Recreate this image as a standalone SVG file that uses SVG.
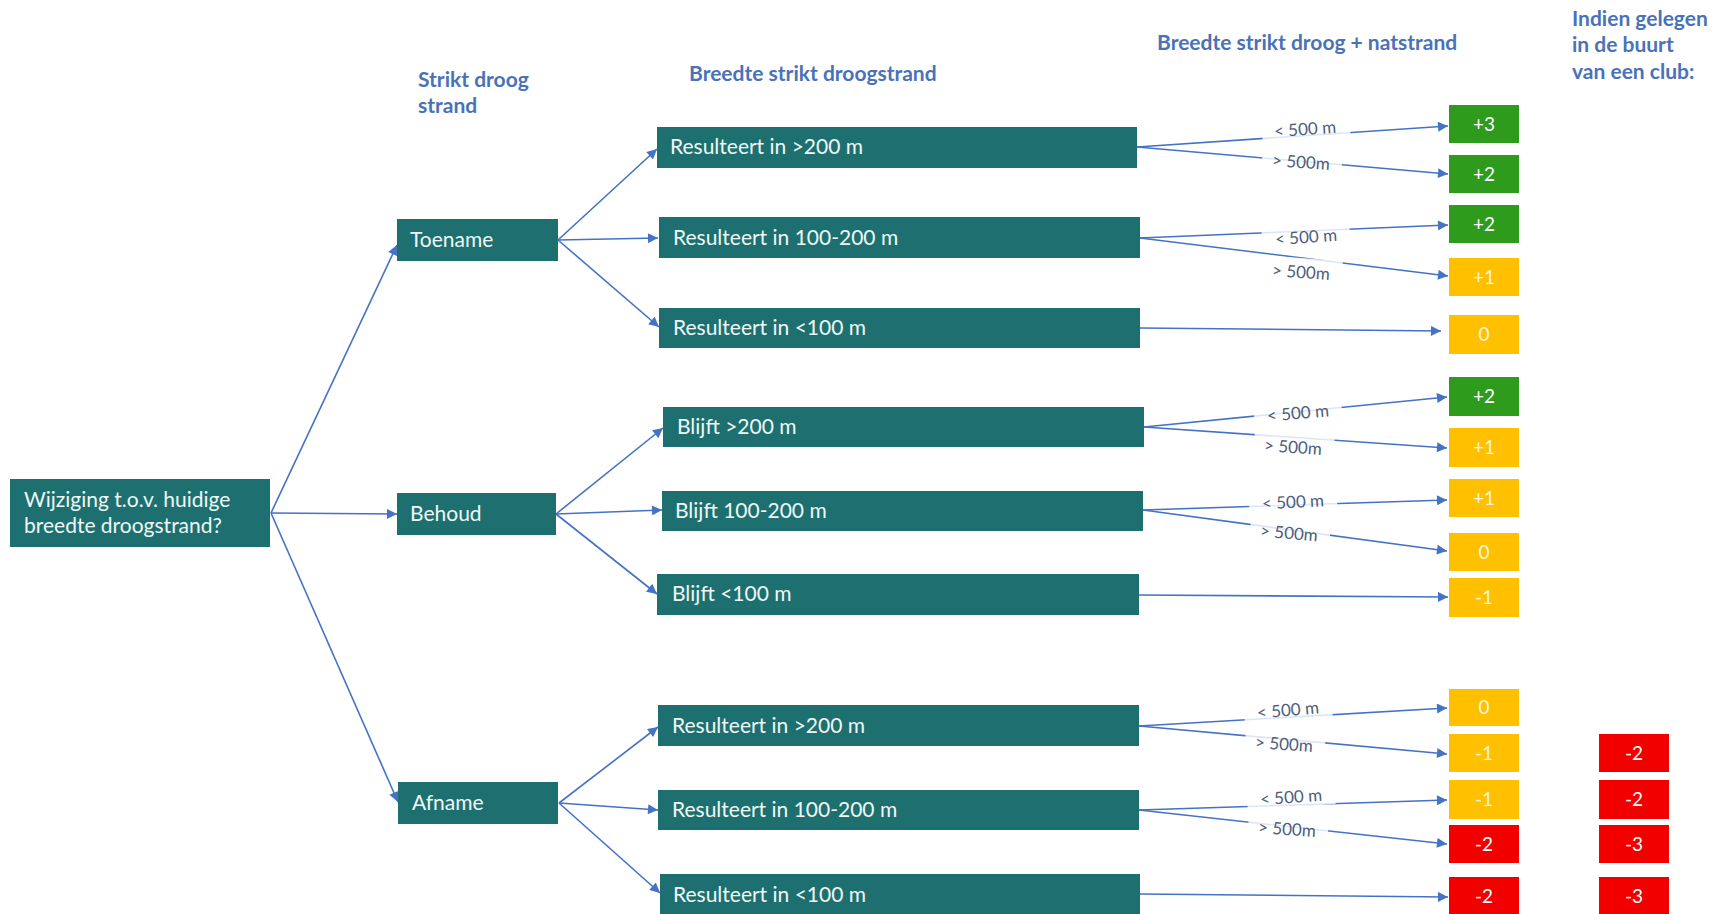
<svg xmlns="http://www.w3.org/2000/svg" width="1715" height="914" viewBox="0 0 1715 914">
  <style>
    .box { fill: #1e7070; }
    .nt { font-family: Lato, "Liberation Sans", sans-serif; font-size: 21px; fill: #eef8f6; }
    .hdr { font-family: Lato, "Liberation Sans", sans-serif; font-size: 21px; font-weight: bold; fill: #4a72b8; }
    .edge { stroke: #4472c4; stroke-width: 1.6; fill: none; marker-end: url(#arr); }
    .lblbg { fill: #ffffff; opacity: 0.82; }
    .lbl { font-family: Lato, "Liberation Sans", sans-serif; font-size: 17px; fill: #4d5d7c; text-anchor: middle; }
    .green { fill: #2e9b1c; }
    .yellow { fill: #ffc000; }
    .red { fill: #f20000; }
    .st { font-family: Lato, "Liberation Sans", sans-serif; font-size: 19px; fill: #ffffff; text-anchor: middle; }
    .st-y { fill: #fff6d8; }
  </style>
  <defs>
    <marker id="arr" viewBox="0 0 10 10" refX="10" refY="5" markerWidth="11" markerHeight="10" markerUnits="userSpaceOnUse" orient="auto">
      <path d="M0,0 L10,5 L0,10 z" fill="#4472c4"/>
    </marker>
  </defs>

  <rect width="1715" height="914" fill="#ffffff"/>

  <!-- column headers -->
  <g id="headers">
    <text class="hdr" x="418" y="87">Strikt droog</text>
    <text class="hdr" x="418" y="113">strand</text>
    <text class="hdr" x="689" y="81">Breedte strikt droogstrand</text>
    <text class="hdr" x="1157" y="50">Breedte strikt droog + natstrand</text>
    <text class="hdr" x="1572" y="26">Indien gelegen</text>
    <text class="hdr" x="1572" y="52">in de buurt</text>
    <text class="hdr" x="1572" y="79">van een club:</text>
  </g>

  <!-- connectors -->
  <g id="connectors">
    <!-- root to change type -->
    <line class="edge" x1="271" y1="513" x2="397" y2="245"/>
    <line class="edge" x1="271" y1="513" x2="397" y2="514"/>
    <line class="edge" x1="271" y1="513" x2="398" y2="802"/>
    <!-- Toename -->
    <line class="edge" x1="558" y1="240" x2="657" y2="149"/>
    <line class="edge" x1="558" y1="240" x2="658" y2="238"/>
    <line class="edge" x1="558" y1="240" x2="659" y2="327"/>
    <!-- Behoud -->
    <line class="edge" x1="556" y1="514" x2="663" y2="428"/>
    <line class="edge" x1="556" y1="514" x2="662" y2="510"/>
    <line class="edge" x1="556" y1="514" x2="657" y2="594"/>
    <!-- Afname -->
    <line class="edge" x1="559" y1="803" x2="658" y2="727"/>
    <line class="edge" x1="559" y1="803" x2="658" y2="810"/>
    <line class="edge" x1="559" y1="803" x2="660" y2="893"/>

    <!-- width to score -->
    <line class="edge" x1="1137" y1="147" x2="1448" y2="126"/>
    <line class="edge" x1="1137" y1="147" x2="1448" y2="174"/>
    <line class="edge" x1="1140" y1="238" x2="1448" y2="225"/>
    <line class="edge" x1="1140" y1="238" x2="1448" y2="276"/>
    <line class="edge" x1="1140" y1="328" x2="1441" y2="331"/>
    <line class="edge" x1="1144" y1="427" x2="1447" y2="397"/>
    <line class="edge" x1="1144" y1="427" x2="1447" y2="448"/>
    <line class="edge" x1="1143" y1="510" x2="1447" y2="500"/>
    <line class="edge" x1="1143" y1="510" x2="1447" y2="551"/>
    <line class="edge" x1="1139" y1="595" x2="1448" y2="597"/>
    <line class="edge" x1="1139" y1="726" x2="1447" y2="708"/>
    <line class="edge" x1="1139" y1="726" x2="1447" y2="754"/>
    <line class="edge" x1="1139" y1="810" x2="1447" y2="800"/>
    <line class="edge" x1="1139" y1="810" x2="1447" y2="844"/>
    <line class="edge" x1="1140" y1="894" x2="1448" y2="897"/>

    <!-- edge labels -->
    <g transform="rotate(-4 1305 129)">
      <rect class="lblbg" x="1262" y="119" width="88" height="20"/>
      <text class="lbl" x="1305" y="135">&lt; 500 m</text>
    </g>
    <g transform="rotate(4 1301 162)">
      <rect class="lblbg" x="1262" y="152" width="80" height="20"/>
      <text class="lbl" x="1301" y="168">&gt; 500m</text>
    </g>
    <g transform="rotate(-4 1306 237)">
      <rect class="lblbg" x="1262" y="225" width="88" height="20"/>
      <text class="lbl" x="1306" y="243">&lt; 500 m</text>
    </g>
    <g transform="rotate(4 1301 272)">
      <rect class="lblbg" x="1262" y="258" width="80" height="22"/>
      <text class="lbl" x="1301" y="278">&gt; 500m</text>
    </g>
    <g transform="rotate(-5 1298 413)">
      <rect class="lblbg" x="1254" y="403" width="88" height="20"/>
      <text class="lbl" x="1298" y="419">&lt; 500 m</text>
    </g>
    <g transform="rotate(4 1293 447)">
      <rect class="lblbg" x="1254" y="434" width="80" height="22"/>
      <text class="lbl" x="1293" y="453">&gt; 500m</text>
    </g>
    <g transform="rotate(-3 1293 502)">
      <rect class="lblbg" x="1249" y="492" width="88" height="20"/>
      <text class="lbl" x="1293" y="508">&lt; 500 m</text>
    </g>
    <g transform="rotate(5 1289 533)">
      <rect class="lblbg" x="1250" y="523" width="80" height="20"/>
      <text class="lbl" x="1289" y="539">&gt; 500m</text>
    </g>
    <g transform="rotate(-5 1288 710)">
      <rect class="lblbg" x="1244" y="700" width="88" height="20"/>
      <text class="lbl" x="1288" y="716">&lt; 500 m</text>
    </g>
    <g transform="rotate(4 1284 744)">
      <rect class="lblbg" x="1245" y="734" width="80" height="20"/>
      <text class="lbl" x="1284" y="750">&gt; 500m</text>
    </g>
    <g transform="rotate(-4 1291 797)">
      <rect class="lblbg" x="1247" y="787" width="88" height="20"/>
      <text class="lbl" x="1291" y="803">&lt; 500 m</text>
    </g>
    <g transform="rotate(4 1287 829)">
      <rect class="lblbg" x="1248" y="819" width="80" height="20"/>
      <text class="lbl" x="1287" y="835">&gt; 500m</text>
    </g>
  </g>

  <!-- question -->
  <g id="root">
    <rect class="box" x="10" y="479" width="260" height="68"/>
    <text class="nt" x="24" y="507">Wijziging t.o.v. huidige</text>
    <text class="nt" x="24" y="533">breedte droogstrand?</text>
  </g>

  <!-- change in dry beach -->
  <g id="toename">
    <rect class="box" x="397" y="219" width="161" height="42"/>
    <text class="nt" x="410" y="247">Toename</text>
  </g>
  <g id="behoud">
    <rect class="box" x="397" y="493" width="159" height="42"/>
    <text class="nt" x="410" y="521">Behoud</text>
  </g>
  <g id="afname">
    <rect class="box" x="398" y="782" width="160" height="42"/>
    <text class="nt" x="412" y="810">Afname</text>
  </g>

  <!-- resulting dry beach width -->
  <g id="toename-gt200">
    <rect class="box" x="657" y="127" width="480" height="41"/>
    <text class="nt" x="670" y="154">Resulteert in &gt;200 m</text>
  </g>
  <g id="toename-100-200">
    <rect class="box" x="659" y="217" width="481" height="41"/>
    <text class="nt" x="673" y="245">Resulteert in 100-200 m</text>
  </g>
  <g id="toename-lt100">
    <rect class="box" x="659" y="308" width="481" height="40"/>
    <text class="nt" x="673" y="335">Resulteert in &lt;100 m</text>
  </g>
  <g id="behoud-gt200">
    <rect class="box" x="663" y="407" width="481" height="40"/>
    <text class="nt" x="677" y="434">Blijft &gt;200 m</text>
  </g>
  <g id="behoud-100-200">
    <rect class="box" x="662" y="491" width="481" height="40"/>
    <text class="nt" x="675" y="518">Blijft 100-200 m</text>
  </g>
  <g id="behoud-lt100">
    <rect class="box" x="657" y="574" width="482" height="41"/>
    <text class="nt" x="672" y="601">Blijft &lt;100 m</text>
  </g>
  <g id="afname-gt200">
    <rect class="box" x="658" y="705" width="481" height="41"/>
    <text class="nt" x="672" y="733">Resulteert in &gt;200 m</text>
  </g>
  <g id="afname-100-200">
    <rect class="box" x="658" y="790" width="481" height="40"/>
    <text class="nt" x="672" y="817">Resulteert in 100-200 m</text>
  </g>
  <g id="afname-lt100">
    <rect class="box" x="660" y="874" width="480" height="42"/>
    <text class="nt" x="673" y="902">Resulteert in &lt;100 m</text>
  </g>

  <!-- scores -->
  <g id="score-1"><rect class="green" x="1449" y="105" width="70" height="38"/><text class="st" x="1484" y="131">+3</text></g>
  <g id="score-2"><rect class="green" x="1449" y="155" width="70" height="38"/><text class="st" x="1484" y="181">+2</text></g>
  <g id="score-3"><rect class="green" x="1449" y="205" width="70" height="38"/><text class="st" x="1484" y="231">+2</text></g>
  <g id="score-4"><rect class="yellow" x="1449" y="258" width="70" height="38"/><text class="st st-y" x="1484" y="284">+1</text></g>
  <g id="score-5"><rect class="yellow" x="1449" y="315" width="70" height="39"/><text class="st st-y" x="1484" y="341">0</text></g>
  <g id="score-6"><rect class="green" x="1449" y="377" width="70" height="39"/><text class="st" x="1484" y="403">+2</text></g>
  <g id="score-7"><rect class="yellow" x="1449" y="428" width="70" height="39"/><text class="st st-y" x="1484" y="454">+1</text></g>
  <g id="score-8"><rect class="yellow" x="1449" y="479" width="70" height="38"/><text class="st st-y" x="1484" y="505">+1</text></g>
  <g id="score-9"><rect class="yellow" x="1449" y="533" width="70" height="38"/><text class="st st-y" x="1484" y="559">0</text></g>
  <g id="score-10"><rect class="yellow" x="1449" y="578" width="70" height="39"/><text class="st st-y" x="1484" y="604">-1</text></g>
  <g id="score-11"><rect class="yellow" x="1449" y="689" width="70" height="37"/><text class="st st-y" x="1484" y="714">0</text></g>
  <g id="score-12"><rect class="yellow" x="1449" y="734" width="70" height="38"/><text class="st st-y" x="1484" y="760">-1</text></g>
  <g id="score-13"><rect class="yellow" x="1449" y="780" width="70" height="39"/><text class="st st-y" x="1484" y="806">-1</text></g>
  <g id="score-14"><rect class="red" x="1449" y="825" width="70" height="38"/><text class="st" x="1484" y="851">-2</text></g>
  <g id="score-15"><rect class="red" x="1449" y="877" width="70" height="38"/><text class="st" x="1484" y="903">-2</text></g>

  <!-- scores near a club -->
  <g id="club-1"><rect class="red" x="1599" y="734" width="70" height="38"/><text class="st" x="1634" y="760">-2</text></g>
  <g id="club-2"><rect class="red" x="1599" y="780" width="70" height="39"/><text class="st" x="1634" y="806">-2</text></g>
  <g id="club-3"><rect class="red" x="1599" y="825" width="70" height="38"/><text class="st" x="1634" y="851">-3</text></g>
  <g id="club-4"><rect class="red" x="1599" y="877" width="70" height="38"/><text class="st" x="1634" y="903">-3</text></g>
</svg>
